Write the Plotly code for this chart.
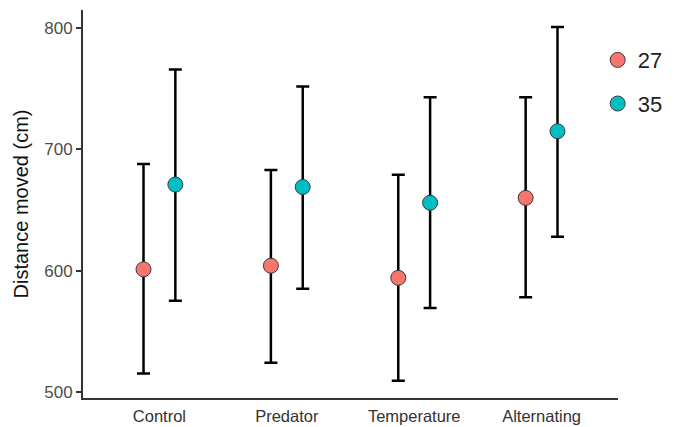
import plotly.graph_objects as go

categories = ["Control", "Predator", "Temperature", "Alternating"]
groups = ["27", "35"]
mean_27 = [601, 604, 594, 660]
upper_27 = [688, 683, 679, 743]
lower_27 = [515, 524, 509, 578]
mean_35 = [671, 669, 656, 715]
upper_35 = [766, 752, 743, 801]
lower_35 = [575, 585, 569, 628]
colors = ["#F8766D", "#00BFC4"]
dodge = 0.125

fig = go.Figure()
series = [(mean_27, upper_27, lower_27), (mean_35, upper_35, lower_35)]
for gi, (name, (m, up, lo)) in enumerate(zip(groups, series)):
    off = -dodge if gi == 0 else dodge
    xs = [i + 1 + off for i in range(len(categories))]
    fig.add_trace(go.Scatter(
        x=xs, y=m, mode="markers", name=name, legendgroup=name,
        marker=dict(size=15, color=colors[gi], line=dict(color="#3a3a3a", width=1)),
        error_y=dict(type="data", symmetric=False,
                     array=[u - v for u, v in zip(up, m)],
                     arrayminus=[v - l for v, l in zip(m, lo)],
                     color="black", thickness=2.5, width=6.5),
    ))

fig.update_layout(
    width=674, height=427,
    margin=dict(l=83, r=56, t=10, b=29, autoexpand=False),
    paper_bgcolor="white", plot_bgcolor="white",
    font=dict(family="Liberation Sans, Arial, sans-serif"),
    showlegend=True,
    legend=dict(x=0.962, xanchor="left", y=0.925, yanchor="top",
                font=dict(size=22, color="#222222"),
                bgcolor="rgba(0,0,0,0)", tracegroupgap=12,
                itemsizing="trace", itemwidth=30),
)
fig.update_xaxes(
    range=[0.4, 4.6], tickmode="array", tickvals=[1, 2, 3, 4], ticktext=categories,
    showline=True, linecolor="#333333", linewidth=1.8, ticks="", showgrid=False,
    zeroline=False, tickfont=dict(size=16.5, color="#333333"), ticklabelstandoff=2,
    automargin=False,
)
fig.update_yaxes(
    range=[494.8, 815.1], tickvals=[500, 600, 700, 800],
    showline=True, linecolor="#333333", linewidth=1.8, ticks="outside",
    ticklen=5, tickwidth=1.5, tickcolor="#333333", showgrid=False, zeroline=False,
    tickfont=dict(size=17, color="#4D4D4D"), automargin=False,
    title=dict(text="Distance moved (cm)", font=dict(size=20, color="#111111"), standoff=10),
)

fig.write_html("out.html")
